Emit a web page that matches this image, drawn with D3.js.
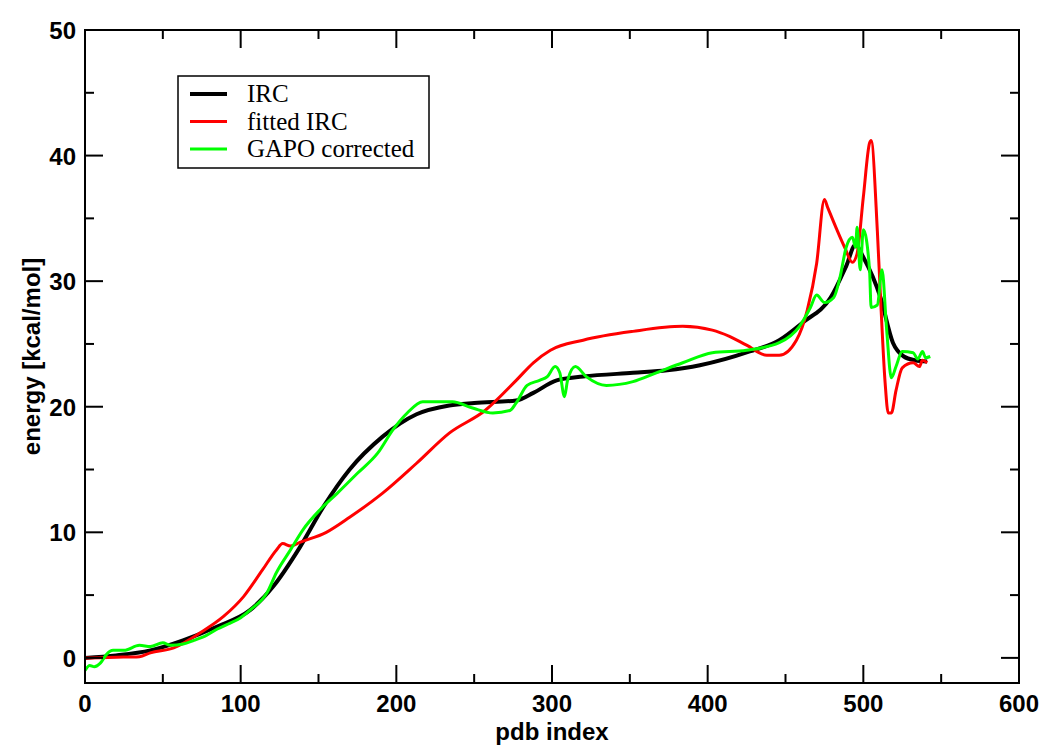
<!DOCTYPE html>
<html lang="en">
<head>
    <meta charset="UTF-8">
    <title>IRC energy profile</title>
    <script src="https://d3js.org/d3.v7.min.js"></script>
    <style>
        body { margin: 0; background: #fff; }
        .tick-label { font-family: "Liberation Sans", Arial, sans-serif; font-weight: bold; font-size: 24px; }
        .axis-title { font-family: "Liberation Sans", Arial, sans-serif; font-weight: bold; font-size: 24px; }
        .legend-text { font-family: "Liberation Serif", "Times New Roman", serif; font-size: 25px; }
        .curve { fill: none; stroke-linejoin: round; }
    </style>
</head>
<body>
    <div id="chart"></div>
    <script>
        // IRC (smooth reference curve)
        var ircX = [0, 20, 42, 63, 85, 106, 121, 138, 153, 170, 191, 213, 234, 250, 277, 288, 303, 320, 352, 374, 395, 427, 446, 461, 479, 489, 495, 500, 511, 519, 526, 533, 541];
        var ircY = [0, 0.2, 0.6, 1.4, 2.5, 3.8, 5.7, 8.8, 12.0, 15.0, 17.6, 19.4, 20.1, 20.3, 20.5, 21.1, 22.1, 22.4, 22.7, 22.9, 23.3, 24.4, 25.3, 26.7, 28.7, 31.2, 32.9, 31.9, 28.7, 25.1, 24.0, 23.7, 23.6];

        // fitted IRC
        var fitX = [0, 3, 20, 35, 42, 57, 74, 89, 102, 114, 123, 127, 132, 138, 155, 170, 191, 213, 234, 257, 277, 288, 299, 320, 352, 384, 403, 414, 425, 438, 446, 457, 464, 470, 475, 477, 483, 488, 493, 496, 500, 504, 505, 509, 511, 514, 516, 518, 521, 525, 532, 536, 538, 541];
        var fitY = [0, 0, 0.05, 0.1, 0.4, 0.8, 2.0, 3.3, 4.9, 7.0, 8.6, 9.1, 8.9, 9.2, 10.0, 11.2, 13.1, 15.5, 17.9, 19.7, 22.1, 23.5, 24.5, 25.3, 26.0, 26.4, 26.1, 25.6, 24.9, 24.1, 24.1, 25.3, 27.7, 31.4, 36.5, 35.9, 34.1, 32.7, 31.5, 32.2, 36.7, 41.0, 41.2, 34.0, 28.8, 21.9, 19.5, 19.5, 21.3, 23.1, 23.5, 23.2, 23.7, 23.5];

        // GAPO corrected
        var gapoX = [0, 3, 6, 10, 14, 18, 25, 35, 42, 50, 55, 63, 70, 78, 85, 92, 100, 106, 117, 123, 132, 140, 151, 162, 175, 188, 198, 207, 217, 230, 236, 249, 262, 273, 277, 284, 292, 297, 302, 305, 308, 310, 315, 322, 335, 352, 367, 384, 403, 425, 446, 459, 466, 470, 475, 481, 485, 489, 493, 495, 496, 498, 500, 504, 505, 509, 512, 515, 518, 521, 525, 532, 535, 538, 540, 543];
        var gapoY = [-1.0, -0.6, -0.7, -0.4, 0.3, 0.6, 0.6, 1.0, 0.9, 1.2, 1.0, 1.1, 1.4, 1.8, 2.3, 2.7, 3.2, 3.8, 5.2, 6.8, 8.6, 10.2, 11.8, 13.1, 14.7, 16.3, 18.2, 19.5, 20.4, 20.4, 20.4, 19.9, 19.5, 19.7, 20.3, 21.7, 22.1, 22.4, 23.2, 22.7, 20.8, 22.1, 23.2, 22.4, 21.7, 22.0, 22.7, 23.5, 24.3, 24.5, 25.1, 26.4, 27.9, 28.9, 28.3, 28.7, 30.3, 32.7, 33.5, 32.7, 34.3, 30.9, 34.1, 30.9, 27.9, 28.1, 30.9, 26.1, 22.3, 23.2, 24.4, 24.3, 23.8, 24.4, 23.9, 24.0];

        var seriesNames = ["IRC", "fitted IRC", "GAPO corrected"];
        var seriesColors = ["#000000", "#ff0000", "#00ff00"];
        var seriesWidths = [4, 3, 3];

        var xMajor = [0, 100, 200, 300, 400, 500, 600];
        var yMajor = [0, 10, 20, 30, 40, 50];

        var W = 1041, H = 745;
        var pLeft = 85, pRight = 1019, pTop = 30, pBottom = 683;

        var x = d3.scaleLinear().domain([0, 600]).range([pLeft, pRight]);
        var y = d3.scaleLinear().domain([-2, 50]).range([pBottom, pTop]);

        var svg = d3.select("#chart").append("svg")
            .attr("width", W)
            .attr("height", H);

        var toPts = function (xs, ys) { return xs.map((v, i) => [v, ys[i]]); };
        var series = [toPts(ircX, ircY), toPts(fitX, fitY), toPts(gapoX, gapoY)];

        svg.append("defs").append("clipPath").attr("id", "clip")
            .append("rect").attr("x", pLeft).attr("y", pTop)
            .attr("width", pRight - pLeft).attr("height", pBottom - pTop);

        var line = d3.line().x(d => x(d[0])).y(d => y(d[1])).curve(d3.curveMonotoneX);

        series.forEach(function (pts, i) {
            svg.append("path")
                .datum(pts)
                .attr("class", "curve")
                .attr("clip-path", "url(#clip)")
                .attr("stroke", seriesColors[i])
                .attr("stroke-width", seriesWidths[i])
                .attr("d", line);
        });

        // frame
        svg.append("rect")
            .attr("x", pLeft).attr("y", pTop)
            .attr("width", pRight - pLeft).attr("height", pBottom - pTop)
            .attr("fill", "none").attr("stroke", "#000").attr("stroke-width", 2);

        // ticks on all four sides, pointing in
        var ticks = svg.append("g").attr("stroke", "#000").attr("stroke-width", 2);
        d3.range(0, 601, 50).forEach(function (v) {
            var len = v % 100 === 0 ? 18 : 9;
            ticks.append("line").attr("x1", x(v)).attr("x2", x(v)).attr("y1", pBottom).attr("y2", pBottom - len);
            ticks.append("line").attr("x1", x(v)).attr("x2", x(v)).attr("y1", pTop).attr("y2", pTop + len);
        });
        d3.range(0, 51, 5).forEach(function (v) {
            var len = v % 10 === 0 ? 18 : 9;
            ticks.append("line").attr("y1", y(v)).attr("y2", y(v)).attr("x1", pLeft).attr("x2", pLeft + len);
            ticks.append("line").attr("y1", y(v)).attr("y2", y(v)).attr("x1", pRight).attr("x2", pRight - len);
        });

        svg.selectAll(".xl").data(xMajor).enter().append("text")
            .attr("class", "tick-label")
            .attr("x", d => x(d)).attr("y", 712)
            .attr("text-anchor", "middle")
            .text(d => d);

        svg.selectAll(".yl").data(yMajor).enter().append("text")
            .attr("class", "tick-label")
            .attr("x", 76).attr("y", d => y(d) + 9)
            .attr("text-anchor", "end")
            .text(d => d);

        svg.append("text").attr("class", "axis-title")
            .attr("x", (pLeft + pRight) / 2).attr("y", 740)
            .attr("text-anchor", "middle")
            .text("pdb index");

        svg.append("text").attr("class", "axis-title")
            .attr("transform", "translate(40," + ((pTop + pBottom) / 2) + ") rotate(-90)")
            .attr("text-anchor", "middle")
            .text("energy [kcal/mol]");

        // legend
        var lg = svg.append("g");
        lg.append("rect").attr("x", 178).attr("y", 76).attr("width", 251).attr("height", 92)
            .attr("fill", "#fff").attr("stroke", "#000").attr("stroke-width", 1.5);
        seriesNames.forEach(function (name, i) {
            var ry = 94 + i * 27.5;
            lg.append("line").attr("x1", 190).attr("x2", 227).attr("y1", ry).attr("y2", ry)
                .attr("stroke", seriesColors[i]).attr("stroke-width", i === 0 ? 4 : 3);
            lg.append("text").attr("class", "legend-text")
                .attr("x", 247).attr("y", ry + 8).text(name);
        });
    </script>
</body>
</html>
